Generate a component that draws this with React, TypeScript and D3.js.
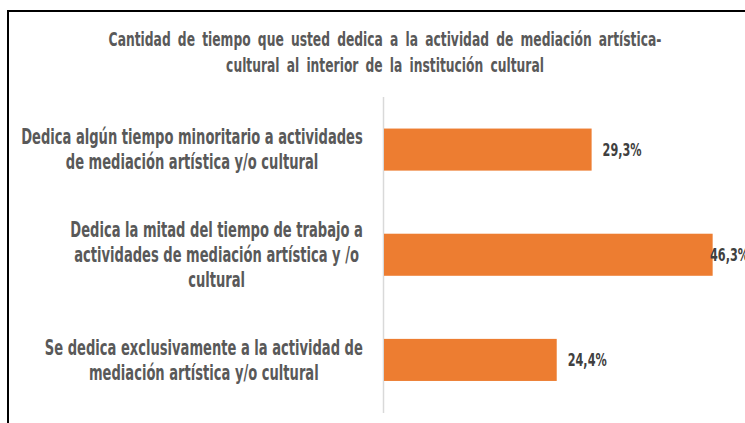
import React, { useEffect, useRef } from "react";
import * as d3 from "d3";

const title = [
  "Cantidad de tiempo que usted dedica a la actividad de mediación artística-",
  "cultural al interior de la institución cultural",
];
const categories = [
  "Dedica algún tiempo minoritario a actividades|de mediación artística y/o cultural",
  "Dedica la mitad del tiempo de trabajo a|actividades de mediación artística y /o|cultural",
  "Se dedica exclusivamente a la actividad de|mediación artística y/o cultural",
];
const values = [0.293, 0.463, 0.244];
const valueLabels = ["29,3%", "46,3%", "24,4%"];

const W = 745;
const H = 423;
const FONT = "'DejaVu Sans Condensed', 'DejaVu Sans', sans-serif";

export default function App() {
  const ref = useRef<SVGSVGElement | null>(null);

  useEffect(() => {
    const svg = d3.select(ref.current);
    svg.selectAll("*").remove();

    const measure = (txt: string, size: number, spacing = 0) => {
      const tmp = svg.append("text").attr("font-family", FONT).attr("font-size", size)
        .attr("font-weight", "bold").style("word-spacing", spacing + "px").text(txt);
      const w = (tmp.node() as SVGTextElement).getComputedTextLength();
      tmp.remove();
      return w;
    };

    // frame
    svg.append("line").attr("x1", 8).attr("x2", W).attr("y1", 11).attr("y2", 11)
      .attr("stroke", "#000").attr("stroke-width", 2);
    svg.append("line").attr("x1", 8).attr("x2", 8).attr("y1", 10).attr("y2", H)
      .attr("stroke", "#000").attr("stroke-width", 2);

    // title
    const tSize = 19;
    const tk = 553 / measure(title[0], tSize, 4);
    const tg = svg.append("g").attr("transform", `translate(385,0) scale(${tk},1)`);
    title.forEach((line, i) => {
      tg.append("text").attr("text-anchor", "middle").attr("x", 0).attr("y", 46 + i * 26)
        .attr("font-family", FONT).attr("font-size", tSize).attr("font-weight", "bold")
        .attr("fill", "#595959").style("word-spacing", "4px").text(line);
    });

    const x = d3.scaleLinear().domain([0, 0.5]).range([383, 739]);
    const y = d3.scaleBand<number>().domain(d3.range(categories.length))
      .range([97, 412.5]).paddingInner(0.6).paddingOuter(0.3);

    // axis line
    svg.append("line").attr("x1", 383.5).attr("x2", 383.5).attr("y1", 97).attr("y2", 413)
      .attr("stroke", "#d9d9d9").attr("stroke-width", 1.5);

    svg.selectAll("rect.bar").data(values).enter().append("rect")
      .attr("class", "bar")
      .attr("x", x(0) + 1)
      .attr("y", (_, i) => y(i)!)
      .attr("width", (d) => x(d) - x(0) - 1)
      .attr("height", y.bandwidth())
      .attr("fill", "#ED7D31");

    const vSize = 18;
    const vk = 39 / measure(valueLabels[0], vSize);
    values.forEach((d, i) => {
      const lx = Math.min(x(d) + 11, 710);
      const ly = y(i)! + y.bandwidth() / 2;
      svg.append("text")
        .attr("transform", `translate(${lx},${ly}) scale(${vk},1)`)
        .attr("dy", "0.35em")
        .attr("font-family", FONT).attr("font-size", vSize).attr("font-weight", "bold")
        .attr("fill", "#404040")
        .text(valueLabels[i]);
    });

    // category labels
    const cSize = 21;
    const lh = 25;
    const ck = 342 / measure(categories[0].split("|")[0], cSize);
    categories.forEach((c, i) => {
      const lines = c.split("|");
      const cy = y(i)! + y.bandwidth() / 2;
      const widths = lines.map((l) => measure(l, cSize) * ck);
      const maxW = Math.max(...widths);
      const cx = 363 - maxW / 2;
      const g = svg.append("g").attr("transform", `translate(${cx},0) scale(${ck},1)`);
      lines.forEach((l, j) => {
        g.append("text").attr("text-anchor", "middle").attr("x", 0)
          .attr("y", cy + (j - (lines.length - 1) / 2) * lh).attr("dy", "0.35em")
          .attr("font-family", FONT).attr("font-size", cSize).attr("font-weight", "bold")
          .attr("fill", "#595959").text(l);
      });
    });
  }, []);

  return (
    <svg ref={ref} width={W} height={H} style={{ position: "absolute", left: 0, top: 0, background: "#fff" }} />
  );
}
